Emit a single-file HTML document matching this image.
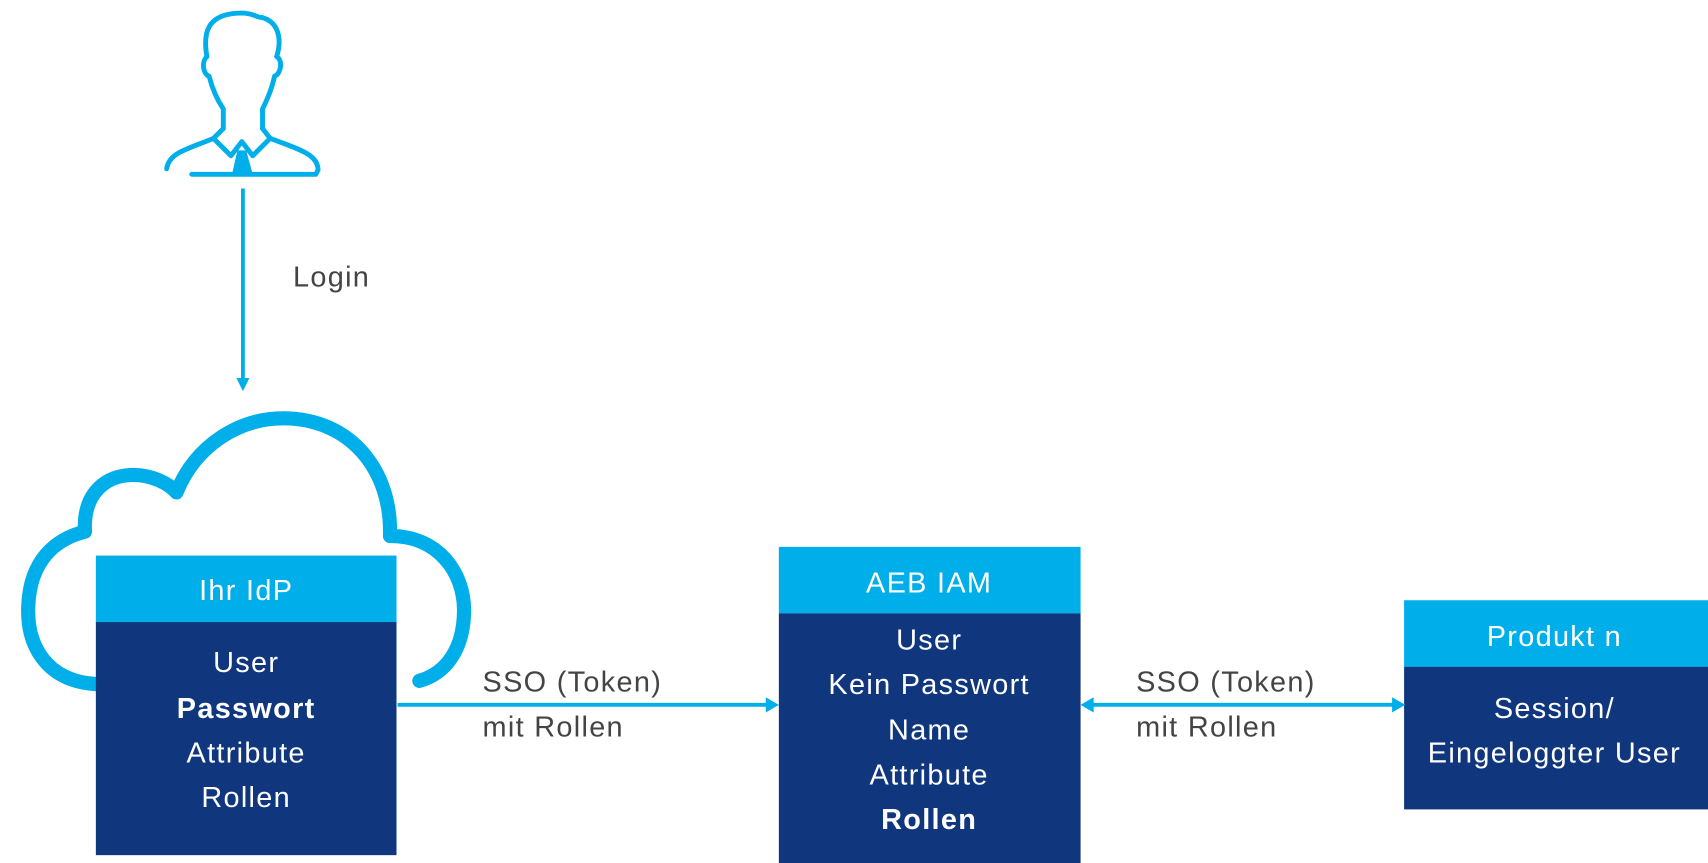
<!DOCTYPE html>
<html><head><meta charset="utf-8"><style>
html,body{margin:0;padding:0;background:#fff;width:1708px;height:863px;overflow:hidden}
svg{display:block}
text{font-family:"Liberation Sans",sans-serif;font-size:26.5px;letter-spacing:1.2px}
</style></head><body>
<svg width="1708" height="863" viewBox="0 0 1568 792.2" preserveAspectRatio="none" xmlns="http://www.w3.org/2000/svg">
<g fill="none" stroke="#00AEEA" stroke-width="4.5" stroke-linecap="round" stroke-linejoin="round">
<path d="M205 118 L205 100 C197 88 194 78 192 70 C186 68 185 56 190 52 C186 30 190 12 222 12 C232 12 236 16 240 16 C256 20 259 36 254 52 C260 55 258 68 252 70 C250 80 246 90 241 100 L241 118"/>
<path d="M205 118 L196 127 L212 143 L222 130 L232 143 L248 127 L241 118"/>
<path d="M196 127 C172 137 155 140 153 155"/>
<path d="M248 127 C275 137 292 142 292 156 L290 160 L176 160"/>
</g>
<polygon points="218,138 226,138 232,160 213,160" fill="#00AEEA"/>
<line x1="223" y1="173" x2="223" y2="350" stroke="#00AEEA" stroke-width="3.5"/>
<polygon points="217,347 229,347 223,359" fill="#00AEEA"/>
<text x="269" y="263" fill="#444">Login</text>
<path d="M88 628 C42 625 24 592 26 555 C28 515 50 495 78 488 C76 452 98 436 122 436 C140 436 155 444 162 452 C180 408 220 384 260 384 C322 384 360 432 358 492 C402 492 426 525 426 560 C426 595 410 618 385 625" fill="none" stroke="#00AEEA" stroke-width="13" stroke-linecap="round" stroke-linejoin="round"/>
<rect x="88" y="510" width="276" height="61" fill="#00AEEA"/>
<rect x="88" y="571" width="276" height="214" fill="#10377E"/>
<rect x="715" y="502" width="277" height="61" fill="#00AEEA"/>
<rect x="715" y="563" width="277" height="235" fill="#10377E"/>
<rect x="1289" y="551" width="279" height="61" fill="#00AEEA"/>
<rect x="1289" y="612" width="279" height="131" fill="#10377E"/>
<g fill="#fff" text-anchor="middle">
<text x="226" y="551">Ihr IdP</text>
<text x="226" y="617">User</text>
<text x="226" y="659" font-weight="bold">Passwort</text>
<text x="226" y="700">Attribute</text>
<text x="226" y="741">Rollen</text>
<text x="853" y="544">AEB IAM</text>
<text x="853" y="596">User</text>
<text x="853" y="637">Kein Passwort</text>
<text x="853" y="679">Name</text>
<text x="853" y="720">Attribute</text>
<text x="853" y="761" font-weight="bold">Rollen</text>
<text x="1427" y="593">Produkt n</text>
<text x="1427" y="659">Session/</text>
<text x="1427" y="700">Eingeloggter User</text>
</g>
<line x1="365" y1="647" x2="706" y2="647" stroke="#00AEEA" stroke-width="3.5"/>
<polygon points="703,640 715,647 703,654" fill="#00AEEA"/>
<line x1="1002" y1="647" x2="1280" y2="647" stroke="#00AEEA" stroke-width="3.5"/>
<polygon points="1004,640 992,647 1004,654" fill="#00AEEA"/>
<polygon points="1278,640 1290,647 1278,654" fill="#00AEEA"/>
<g fill="#444">
<text x="443" y="635">SSO (Token)</text>
<text x="443" y="676">mit Rollen</text>
<text x="1043" y="635">SSO (Token)</text>
<text x="1043" y="676">mit Rollen</text>
</g>
</svg>
</body></html>
